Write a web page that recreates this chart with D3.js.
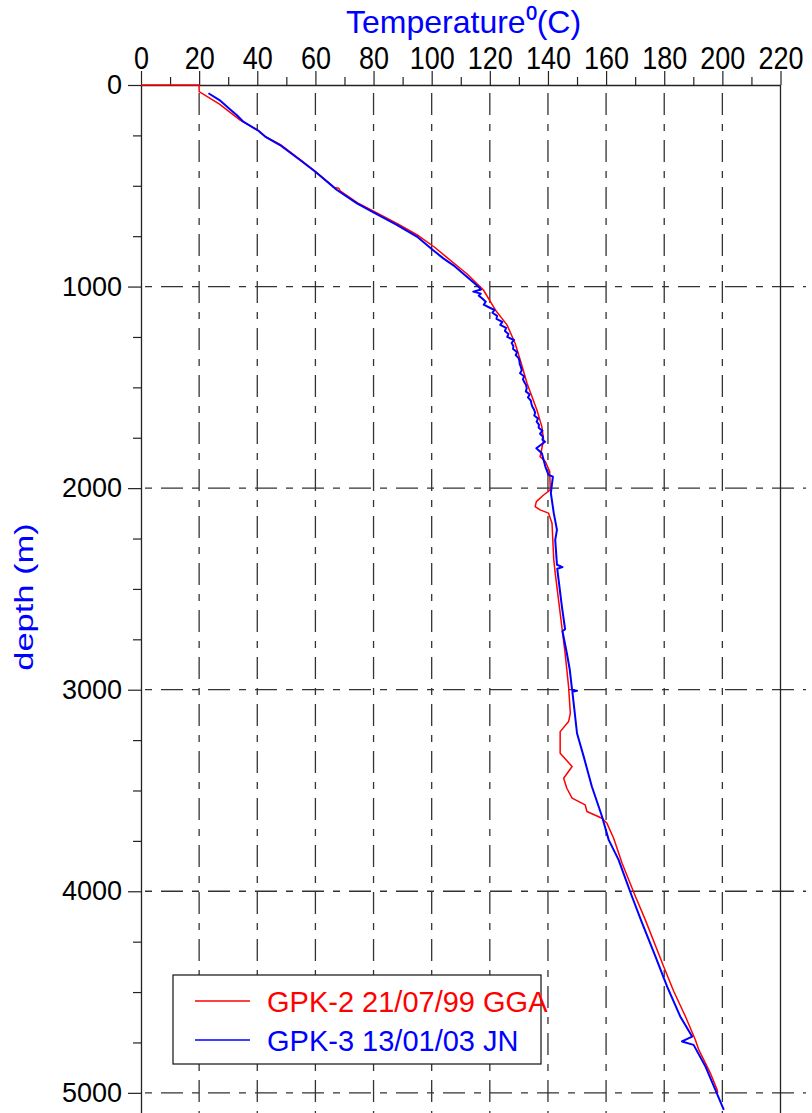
<!DOCTYPE html>
<html>
<head>
<meta charset="utf-8">
<script src="https://cdn.jsdelivr.net/npm/d3@7/dist/d3.min.js"></script>
<style>
  html, body { margin: 0; padding: 0; background: #fff; }
  svg { display: block; font-family: "Liberation Sans", Arial, sans-serif; }
</style>
</head>
<body>
<svg id="chart" width="812" height="1113"></svg>
<script>
// ---------- data ----------
const xMajorTicks = [0, 20, 40, 60, 80, 100, 120, 140, 160, 180, 200, 220];
const yMajorTicks = [0, 1000, 2000, 3000, 4000, 5000];
const seriesNames = ["GPK-2 21/07/99 GGA", "GPK-3 13/01/03 JN"];
const seriesColors = ["#ff0000", "#0000ff"];

const gpk2Temp = [0, 20, 20, 27, 34.1, 40, 43, 48, 55, 60, 66.5, 68, 68.5, 74.5, 80.5, 88.5, 95.5, 101, 105.2, 108, 112, 117.8,
  121.9, 125.9, 128.7, 130.8, 132.8, 136.2, 137.9, 138.5, 137.9, 137.3, 139.1, 140.6, 140.8, 138.5, 136.0, 135.6, 137.3,
  140.2, 141.4, 142.0, 142.5, 144.2, 145.9, 147.1, 147.7, 147.1, 144.2, 144.2, 148.3, 145.4, 146.5, 148.3, 152.8, 153.4,
  158.6, 160.3, 162.6, 165.5, 170.1, 173.5, 179.8, 183.3, 187.3, 190.7, 191.9, 195.9, 198.2, 198.4];
const gpk2Depth = [0, 0, 33, 95, 174, 222, 258, 296, 372, 430, 508, 512, 525, 585, 630, 690, 748, 805, 855, 888, 935, 1017,
  1116, 1190, 1281, 1380, 1480, 1612, 1695, 1761, 1802, 1844, 1868, 1918, 2009, 2034, 2067, 2092, 2108,
  2124, 2174, 2356, 2422, 2620, 2819, 2985, 3117, 3158, 3208, 3315, 3381, 3439, 3489, 3538, 3571, 3604,
  3638, 3663, 3737, 3861, 4026, 4142, 4373, 4497, 4621, 4737, 4787, 4903, 4985, 5000];

const gpk3Temp = [23.2, 27, 30.6, 33, 35.2, 40.4, 42.7, 47.8, 54.7, 60, 67.4, 74.3, 80.1, 88, 94.9, 100.1, 104, 108, 112,
  116.0, 117.0, 114.3, 116.9, 116.2, 117.5, 118.6, 117.9, 120.0, 121.6, 120.9, 122.5, 122.3, 124.3, 123.6, 125.6, 125.2,
  126.4, 126.0, 128.3, 127.5, 128.1, 128.0, 129.4, 128.9, 129.9, 130.2, 130.3, 130.7, 131.0, 130.4, 131.8, 131.4, 131.9,
  132.5, 132.7, 132.4, 133.7, 133.1, 134.1, 134.3, 134.6, 135.2, 135.6, 135.3, 136.6, 136.1, 136.9, 136.8, 138.1, 137.3,
  138.3, 138.1, 139.0,
  136, 137.9, 139.1, 140.2, 141.7, 141, 142, 143.1,
  142.5, 143.1, 145, 143.2, 144.8, 145.9, 145, 146.5, 147.5, 148.3, 150, 148.4, 150, 152.3, 155.1, 158.6, 160.9, 164.3,
  168.9, 172.4, 177, 181, 185.5, 189.6, 186.1, 190.1, 194.2, 197.6, 200.5];
const gpk3Depth = [41, 75, 120, 150, 182, 227, 256, 298, 372, 430, 521, 587, 633, 694, 752, 815, 860, 900, 950,
  1000, 1015, 1025, 1035, 1045, 1060, 1075, 1090, 1105, 1116, 1130, 1145, 1160, 1175, 1190, 1205, 1220,
  1235, 1250, 1265, 1280, 1295, 1310, 1325, 1340, 1355, 1370, 1385, 1400, 1415, 1430, 1445, 1460, 1475,
  1490, 1505, 1520, 1535, 1550, 1565, 1580, 1595, 1610, 1625, 1640, 1655, 1670, 1685, 1700, 1715, 1730,
  1745, 1760, 1770,
  1802, 1827, 1893, 1934, 1943, 2025, 2124, 2207,
  2257, 2380, 2392, 2400, 2588, 2700, 2710, 2819, 2900, 3001, 3005, 3010, 3216, 3332, 3480, 3629, 3745, 3844,
  4026, 4158, 4324, 4473, 4621, 4721, 4745, 4762, 4870, 4985, 5084];

// ---------- layout ----------
const svg = d3.select("#chart");
const plotLeft = 141, plotRight = 780.5, plotTop = 85, plotBottom = 1113;
const x = d3.scaleLinear().domain([0, 220]).range([plotLeft, plotRight]);
const y = d3.scaleLinear().domain([0, 5100]).range([plotTop, plotBottom]);
const gridColor = "#333";
const dash = "22,9,7,9";

// grid verticals
svg.append("g").selectAll("line")
  .data(xMajorTicks.filter(d => d > 0 && d < 220))
  .join("line")
  .attr("x1", d => x(d)).attr("x2", d => x(d))
  .attr("y1", y(0)).attr("y2", plotBottom)
  .attr("stroke", gridColor).attr("stroke-width", 1.3)
  .attr("stroke-dasharray", dash)
  .attr("stroke-dashoffset", -8);

// grid horizontals
svg.append("g").selectAll("line")
  .data(yMajorTicks.filter(d => d > 0))
  .join("line")
  .attr("x1", plotLeft).attr("x2", 806)
  .attr("y1", d => y(d)).attr("y2", d => y(d))
  .attr("stroke", gridColor).attr("stroke-width", 1.3)
  .attr("stroke-dasharray", dash)
  .attr("stroke-dashoffset", -20);

// right border
svg.append("line")
  .attr("x1", x(220)).attr("x2", x(220))
  .attr("y1", y(0)).attr("y2", plotBottom)
  .attr("stroke", "#222").attr("stroke-width", 1.3);

// top axis minor ticks
const xMinor = d3.range(10, 220, 20);
svg.append("g").attr("transform", `translate(0,${plotTop})`)
  .call(d3.axisTop(x).tickValues(xMinor).tickSize(8).tickSizeOuter(0).tickFormat(""))
  .call(g => g.select(".domain").remove())
  .call(g => g.selectAll("line").attr("stroke", "#222").attr("stroke-width", 1.2));

// top axis major
const xAxisG = svg.append("g").attr("transform", `translate(0,${plotTop})`)
  .call(d3.axisTop(x).tickValues(xMajorTicks).tickSize(14).tickSizeOuter(0).tickPadding(2).tickFormat(d3.format("d")));
xAxisG.select(".domain").attr("stroke", "#222").attr("stroke-width", 1.3);
xAxisG.selectAll("line").attr("stroke", "#222").attr("stroke-width", 1.2);
xAxisG.selectAll("text")
  .attr("font-size", 27).attr("fill", "#000")
  .attr("font-family", "Liberation Sans, Arial, sans-serif")
  .attr("y", -16 / 1.15)
  .attr("transform", "scale(1,1.15)");

// left axis minor ticks
const yMinor = d3.range(250, 5100, 250).filter(d => d % 1000 !== 0);
svg.append("g").attr("transform", `translate(${plotLeft},0)`)
  .call(d3.axisLeft(y).tickValues(yMinor).tickSize(8).tickSizeOuter(0).tickFormat(""))
  .call(g => g.select(".domain").remove())
  .call(g => g.selectAll("line").attr("stroke", "#222").attr("stroke-width", 1.2));

// left axis major
const yAxisG = svg.append("g").attr("transform", `translate(${plotLeft},0)`)
  .call(d3.axisLeft(y).tickValues(yMajorTicks).tickSize(13).tickSizeOuter(0).tickPadding(6).tickFormat(d3.format("d")));
yAxisG.select(".domain").attr("stroke", "#222").attr("stroke-width", 1.3);
yAxisG.selectAll("line").attr("stroke", "#222").attr("stroke-width", 1.2);
yAxisG.selectAll("text")
  .attr("font-size", 27).attr("fill", "#000")
  .attr("font-family", "Liberation Sans, Arial, sans-serif");

// ---------- curves ----------
const line = d3.line().x(d => x(d[0])).y(d => y(d[1]));
const red = gpk2Temp.map((t, i) => [t, gpk2Depth[i]]);
const blue = gpk3Temp.map((t, i) => [t, gpk3Depth[i]]);

svg.append("path").datum(red)
  .attr("d", line).attr("fill", "none")
  .attr("stroke", seriesColors[0]).attr("stroke-width", 1.5).attr("stroke-linejoin", "round");
svg.append("path").datum(blue)
  .attr("d", line).attr("fill", "none")
  .attr("stroke", seriesColors[1]).attr("stroke-width", 2).attr("stroke-linejoin", "round");

// ---------- titles ----------
svg.append("text")
  .attr("x", 346).attr("y", 33)
  .attr("fill", "#0000ff").attr("font-size", 32)
  .text("Temperature\u2070(C)");

svg.append("text")
  .attr("transform", "translate(33,597) rotate(-90) scale(1.38,1)")
  .attr("text-anchor", "middle")
  .attr("fill", "#0000ff").attr("font-size", 25)
  .text("depth (m)");

// ---------- legend ----------
const lg = svg.append("g");
lg.append("rect")
  .attr("x", 173).attr("y", 975).attr("width", 368).attr("height", 89)
  .attr("fill", "#fff").attr("stroke", "#222").attr("stroke-width", 1.3);
seriesNames.forEach((name, i) => {
  const cy = 1001 + i * 39;
  lg.append("line").attr("x1", 195).attr("x2", 250).attr("y1", cy).attr("y2", cy)
    .attr("stroke", seriesColors[i]).attr("stroke-width", 1.5);
  lg.append("text").attr("x", 267).attr("y", cy + 10.5)
    .attr("fill", seriesColors[i]).attr("font-size", 29).text(name);
});
</script>
</body>
</html>
